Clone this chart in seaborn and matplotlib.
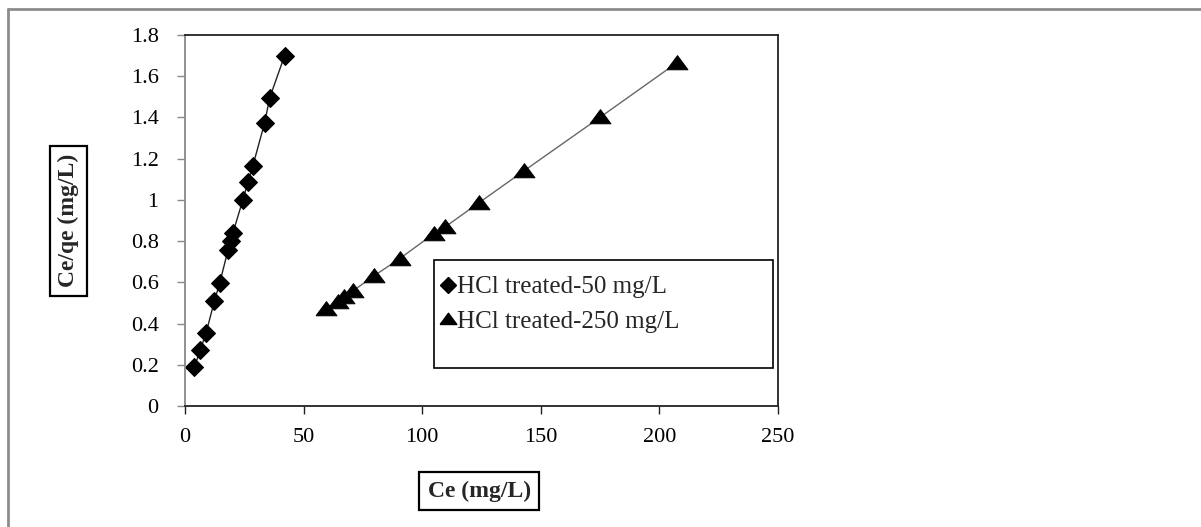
import matplotlib
matplotlib.use('Agg')
import matplotlib.pyplot as plt
from matplotlib.lines import Line2D
from matplotlib.patches import Rectangle
import seaborn as sns
import pandas as pd

# HCl treated - 50 mg/L
ce_50 = [4.0, 6.4, 8.9, 12.4, 14.6, 18.1, 19.5, 20.2, 24.4, 26.5, 28.6, 33.6, 35.7, 42.0]
ratio_50 = [0.19, 0.27, 0.355, 0.51, 0.595, 0.755, 0.80, 0.84, 1.00, 1.085, 1.165, 1.375, 1.495, 1.70]

# HCl treated - 250 mg/L
ce_250 = [59.5, 64.5, 67.0, 71.0, 79.5, 90.5, 104.8, 109.8, 123.8, 142.8, 174.9, 207.3]
ratio_250 = [0.47, 0.505, 0.53, 0.56, 0.63, 0.715, 0.835, 0.87, 0.985, 1.14, 1.40, 1.665]

labels = ['HCl treated-50 mg/L', 'HCl treated-250 mg/L']

df50 = pd.DataFrame({'Ce': ce_50, 'ratio': ratio_50})
df250 = pd.DataFrame({'Ce': ce_250, 'ratio': ratio_250})

# wide, flat triangle like the spreadsheet marker
tri = [(-1, -0.6), (1, -0.6), (0, 0.75), (-1, -0.6)]

sns.set_style('ticks')
plt.rcParams['font.family'] = ['Liberation Serif', 'DejaVu Serif']

W, H = 1201, 527
fig = plt.figure(figsize=(W / 100, H / 100), dpi=100)
ax = fig.add_axes([185 / W, 121 / H, 593 / W, 371 / H])

sns.lineplot(data=df50, x='Ce', y='ratio', sort=False, estimator=None, ax=ax,
             color='#222222', linewidth=1, marker='D', markersize=9.5,
             markerfacecolor='black', markeredgecolor='black')
sns.lineplot(data=df250, x='Ce', y='ratio', sort=False, estimator=None, ax=ax,
             color='#666666', linewidth=1, marker=tri, markersize=15,
             markerfacecolor='black', markeredgecolor='black')

ax.set_xlim(0, 250)
ax.set_ylim(0, 1.8)
ax.set_xticks(range(0, 251, 50))
ax.set_yticks([0, 0.2, 0.4, 0.6, 0.8, 1, 1.2, 1.4, 1.6, 1.8])
ax.set_yticklabels(['0', '0.2', '0.4', '0.6', '0.8', '1', '1.2', '1.4', '1.6', '1.8'])

for s in ['top', 'right', 'bottom']:
    ax.spines[s].set_visible(True)
    ax.spines[s].set_color('#222222')
    ax.spines[s].set_linewidth(1.3)
ax.spines['left'].set_color('#888888')
ax.spines['left'].set_linewidth(1.3)

ax.tick_params(axis='x', direction='out', length=5.5, width=1, colors='#222222',
               labelsize=16, pad=10, labelcolor='black')
ax.tick_params(axis='y', direction='out', length=6, width=1, colors='#888888',
               labelsize=16, pad=13, labelcolor='black')

box = dict(boxstyle='square,pad=0.35', fc='white', ec='black', lw=1.6)
ax.set_xlabel('Ce (mg/L)', fontsize=17, fontweight='bold', bbox=box, va='center')
ax.set_ylabel('Ce/qe (mg/L)', fontsize=17, fontweight='bold', bbox=box, va='center')
ax.xaxis.set_label_coords(0.496, -0.229)
ax.yaxis.set_label_coords(-0.1965, 0.499)

# legend frame drawn separately so it sits where the original one is
ax.add_patch(Rectangle((434 / W, (H - 368) / H), 339 / W, 108 / H, transform=fig.transFigure,
                       fc='white', ec='black', lw=1.2, zorder=4, clip_on=False))
handles = [Line2D([], [], linestyle='none', marker='D', markersize=8, color='black'),
           Line2D([], [], linestyle='none', marker=tri, markersize=12, color='black')]
leg = ax.legend(handles, labels, loc='upper left', bbox_to_anchor=(441 / W, (H - 276) / H),
                bbox_transform=fig.transFigure, fontsize=18, frameon=False,
                labelspacing=0.48, handlelength=0.55, handletextpad=0.1,
                borderpad=0, borderaxespad=0)
leg.set_zorder(5)

# outer chart frame
fig.add_artist(Line2D([8 / W, 8 / W], [0, 518 / H], transform=fig.transFigure,
                      color='#8c8c8c', linewidth=2))
fig.add_artist(Line2D([8 / W, 1], [518 / H, 518 / H], transform=fig.transFigure,
                      color='#8c8c8c', linewidth=2))

fig.savefig('out.png', dpi=100)
